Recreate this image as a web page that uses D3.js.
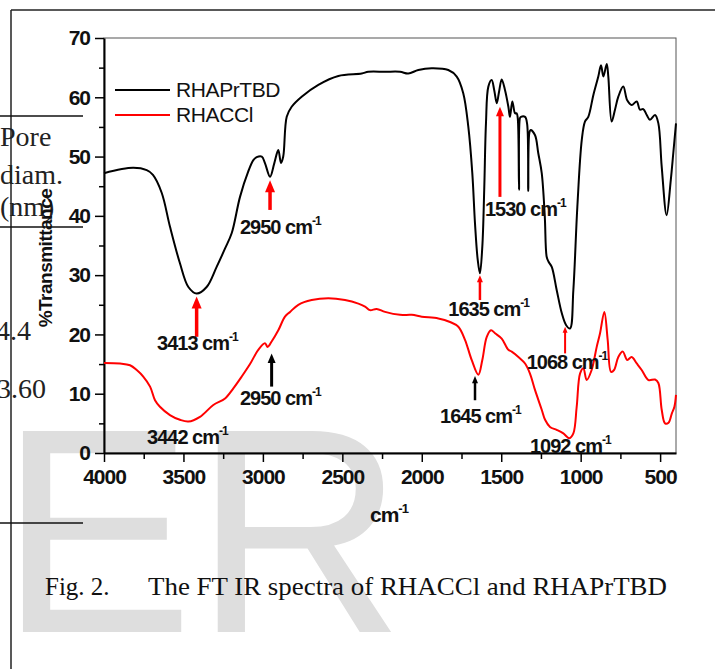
<!DOCTYPE html>
<html>
<head>
<meta charset="utf-8">
<script src="https://cdn.jsdelivr.net/npm/d3@7"></script>
<style>
  body { margin: 0; background: #fff; }
  svg { display: block; }
</style>
</head>
<body>
<script>
    // spectra (wavenumber in cm-1, % transmittance)
    const rhaprtbdWn = [4000, 3817, 3731, 3692, 3637, 3585, 3522, 3469, 3417, 3354, 3291, 3238, 3196, 3144, 3092,
        3060, 3039, 3007, 2987, 2955, 2928, 2903, 2886, 2872, 2850, 2819, 2756, 2651, 2525, 2378, 2337, 2231,
        2137, 2085, 2022, 1938, 1833, 1780, 1739, 1707, 1682, 1665, 1648, 1634, 1619, 1607, 1596, 1581, 1560,
        1544, 1528, 1514, 1497, 1476, 1455, 1445, 1430, 1413, 1403, 1396, 1388, 1382, 1376, 1350, 1337, 1330,
        1323, 1315, 1287, 1267, 1245, 1226, 1214, 1203, 1182, 1151, 1119, 1092, 1067, 1046, 1021, 993, 973, 952,
        920, 889, 872, 857, 836, 826, 805, 784, 763, 732, 707, 679, 647, 627, 606, 584, 564, 532, 511, 490, 459,
        433, 417, 400];
    const rhaprtbdT = [47.2, 48.1, 47.7, 46.9, 43.9, 38.2, 32.0, 28.0, 26.9, 28.0, 31.4, 34.5, 37.1, 43.2, 47.5,
        49.4, 49.9, 50.0, 48.9, 46.6, 48.9, 51.1, 48.9, 50.0, 56.7, 58.4, 60.1, 62.1, 63.6, 64.0, 64.3, 64.3,
        64.3, 64.0, 64.6, 64.9, 64.6, 63.5, 60.7, 55.0, 47.2, 38.7, 32.6, 30.3, 34.8, 44.4, 55.6, 61.8, 62.9,
        61.2, 59.0, 60.9, 63.0, 61.2, 58.4, 56.7, 59.3, 57.3, 57.3, 56.5, 44.4, 56.5, 56.7, 56.7, 55.5, 44.2,
        54.0, 54.5, 53.6, 50.6, 47.2, 40.0, 33.1, 32.3, 31.4, 27.5, 23.6, 21.6, 21.0, 27.5, 41.5, 52.8, 55.9, 56.7,
        60.4, 63.5, 65.4, 63.5, 65.6, 63.5, 55.9, 57.9, 60.1, 61.8, 59.5, 58.7, 59.3, 57.9, 58.0, 57.0, 56.2, 57.0,
        55.6, 48.3, 40.1, 46.0, 50.6, 55.6];

    const rhacclWn = [4000, 3899, 3836, 3794, 3753, 3710, 3679, 3648, 3585, 3522, 3469, 3396, 3312, 3238, 3186,
        3133, 3081, 3029, 2987, 2970, 2945, 2903, 2861, 2829, 2777, 2693, 2588, 2483, 2399, 2357, 2326, 2284,
        2231, 2137, 2063, 2000, 1896, 1822, 1770, 1728, 1686, 1644, 1619, 1591, 1564, 1539, 1497, 1455, 1434,
        1392, 1350, 1319, 1287, 1245, 1224, 1193, 1151, 1109, 1071, 1046, 1025, 1004, 983, 962, 931, 899, 878,
        851, 830, 809, 790, 763, 735, 707, 679, 647, 616, 573, 532, 511, 490, 469, 447, 426, 410, 400];
    const rhacclT = [15.2, 15.1, 14.8, 14.0, 12.9, 11.2, 8.9, 7.8, 6.4, 5.6, 5.3, 6.1, 8.1, 9.2, 10.9,
        12.9, 15.0, 17.4, 18.5, 17.9, 18.8, 20.7, 23.0, 23.8, 25.0, 25.8, 26.1, 25.8, 25.2, 24.7, 24.1, 24.3,
        23.8, 23.3, 23.3, 23.0, 22.7, 22.1, 21.3, 19.1, 15.7, 13.2, 15.7, 19.6, 20.7, 20.2, 19.3, 17.4, 17.1,
        16.2, 15.1, 13.4, 10.6, 7.3, 5.6, 4.4, 3.9, 3.3, 2.5, 3.3, 7.8, 13.4, 14.3, 12.3, 14.0, 17.9, 20.2,
        23.8, 19.1, 13.7, 14.0, 16.2, 17.1, 15.7, 16.2, 15.1, 14.0, 12.3, 12.4, 11.8, 7.3, 5.0, 5.1, 6.7, 7.8, 9.8];

    const xMajorTicks = [4000, 3500, 3000, 2500, 2000, 1500, 1000, 500];
    const xMinorTicks = [3750, 3250, 2750, 2250, 1750, 1250, 750];
    const yMajorTicks = [0, 10, 20, 30, 40, 50, 60, 70];
    const yMinorTicks = [5, 15, 25, 35, 45, 55, 65];

    const seriesNames = ["RHAPrTBD", "RHACCl"];
    const seriesColors = ["#000000", "#ff0000"];

    // peak notes: arrow at wn from tail to tip, label starting at (labelWn, labelT)
    const peakNotes = [
        { text: "2950", wn: 2955, tip: 46.0, tail: 41.0, color: "#ff0000", head: 10, w: 3.5, labelWn: 3144, labelT: 37.0 },
        { text: "3413", wn: 3417, tip: 26.4, tail: 19.6, color: "#ff0000", head: 10, w: 3.5, labelWn: 3666, labelT: 17.3 },
        { text: "2950", wn: 2945, tip: 16.8, tail: 11.2, color: "#000000", head: 8, w: 3, labelWn: 3144, labelT: 8.1 },
        { text: "3442", labelWn: 3729, labelT: 1.6 },
        { text: "1530", wn: 1508, tip: 58.4, tail: 43.2, color: "#ff0000", head: 8, w: 3, labelWn: 1602, labelT: 39.9 },
        { text: "1635", wn: 1634, tip: 30.0, tail: 25.8, color: "#ff0000", head: 6, w: 2.5, labelWn: 1833, labelT: 23.1 },
        { text: "1068", wn: 1098, tip: 21.3, tail: 16.8, color: "#ff0000", head: 5, w: 2, labelWn: 1340, labelT: 14.1 },
        { text: "1645", wn: 1665, tip: 13.0, tail: 8.9, color: "#000000", head: 6, w: 2.5, labelWn: 1885, labelT: 5.1 },
        { text: "1092", labelWn: 1319, labelT: 0.0 }
    ];

    const width = 715, height = 669;
    const margin = { left: 104, top: 38, right: 39, bottom: 216 };
    const plotW = width - margin.left - margin.right;
    const plotH = height - margin.top - margin.bottom;

    const svg = d3.select("body").append("svg")
        .attr("width", width)
        .attr("height", height)
        .style("background", "#fff");

    // watermark behind everything
    svg.append("text")
        .attr("x", -1)
        .attr("y", 632)
        .attr("font-family", "'Liberation Sans', Arial, sans-serif")
        .attr("font-size", 292)
        .attr("fill", "#dedede")
        .text("ER");

    // page frame and table fragments
    svg.append("line").attr("x1", 11).attr("y1", 10).attr("x2", width).attr("y2", 10)
        .attr("stroke", "#222").attr("stroke-width", 1.5);
    svg.append("line").attr("x1", 11).attr("y1", 10).attr("x2", 11).attr("y2", height)
        .attr("stroke", "#222").attr("stroke-width", 1.5);
    [116, 227, 523].forEach(yy => {
        svg.append("line").attr("x1", 0).attr("y1", yy).attr("x2", 83).attr("y2", yy)
            .attr("stroke", "#111").attr("stroke-width", 1.5);
    });
    const tableText = [["Pore", 0, 146], ["diam.", 0, 184], ["(nm)", 0, 216], ["4.4", -4, 340], ["3.60", -3, 398]];
    tableText.forEach(t => {
        svg.append("text")
            .attr("x", t[1]).attr("y", t[2])
            .attr("font-family", "'Liberation Serif', 'Times New Roman', serif")
            .attr("font-size", 28)
            .attr("fill", "#222")
            .text(t[0]);
    });

    const x = d3.scaleLinear().domain([4000, 400]).range([margin.left, margin.left + plotW]);
    const y = d3.scaleLinear().domain([0, 70]).range([margin.top + plotH, margin.top]);

    // plot frame (top/right)
    svg.append("rect")
        .attr("x", margin.left).attr("y", margin.top)
        .attr("width", plotW).attr("height", plotH)
        .attr("fill", "none").attr("stroke", "#555").attr("stroke-width", 1);

    const tickFont = g => g
        .attr("font-family", "'Liberation Sans', Arial, sans-serif")
        .attr("font-size", 21)
        .attr("font-weight", "bold")
        .attr("letter-spacing", -1);

    // x axis
    svg.append("g")
        .attr("transform", `translate(0,${margin.top + plotH})`)
        .call(d3.axisBottom(x).tickValues(xMinorTicks).tickSize(6).tickFormat(""))
        .call(g => g.select(".domain").remove())
        .call(g => g.selectAll("line").attr("stroke-width", 1.5));
    svg.append("g")
        .attr("transform", `translate(0,${margin.top + plotH})`)
        .call(d3.axisBottom(x).tickValues(xMajorTicks).tickFormat(d3.format("d"))
            .tickSize(9).tickSizeOuter(0).tickPadding(6))
        .call(tickFont)
        .call(g => g.select(".domain").attr("stroke-width", 2))
        .call(g => g.selectAll("line").attr("stroke-width", 1.5))
        .call(g => g.selectAll("text").attr("fill", "#111").attr("dy", "0.78em"));

    // y axis
    svg.append("g")
        .attr("transform", `translate(${margin.left},0)`)
        .call(d3.axisLeft(y).tickValues(yMinorTicks).tickSize(5).tickFormat(""))
        .call(g => g.select(".domain").remove())
        .call(g => g.selectAll("line").attr("stroke-width", 1.5));
    svg.append("g")
        .attr("transform", `translate(${margin.left},0)`)
        .call(d3.axisLeft(y).tickValues(yMajorTicks).tickSize(9).tickSizeOuter(0).tickPadding(5))
        .call(tickFont)
        .call(g => g.select(".domain").attr("stroke-width", 2))
        .call(g => g.selectAll("line").attr("stroke-width", 1.5))
        .call(g => g.selectAll("text").attr("fill", "#111"));

    // axis titles
    const xTitle = svg.append("text")
        .attr("x", 370).attr("y", 522)
        .attr("font-family", "'Liberation Sans', Arial, sans-serif")
        .attr("font-size", 21).attr("font-weight", "bold").attr("letter-spacing", -1)
        .attr("fill", "#111");
    xTitle.append("tspan").text("cm");
    xTitle.append("tspan").attr("dy", -9).attr("font-size", 13).text("-1");

    svg.append("text")
        .attr("transform", "translate(52,258) rotate(-90)")
        .attr("text-anchor", "middle")
        .attr("font-family", "'Liberation Sans', Arial, sans-serif")
        .attr("font-size", 19).attr("font-weight", "bold").attr("letter-spacing", -0.5)
        .attr("fill", "#111")
        .text("%Transmittance");

    // spectra
    const line = d3.line()
        .x(d => x(d[0]))
        .y(d => y(d[1]))
        .curve(d3.curveCatmullRom.alpha(0.5));
    const spectra = [
        d3.zip(rhaprtbdWn, rhaprtbdT),
        d3.zip(rhacclWn, rhacclT)
    ];
    svg.selectAll(".spec")
        .data(spectra)
        .enter()
        .append("path")
        .attr("class", "spec")
        .attr("d", line)
        .attr("fill", "none")
        .attr("stroke", (d, i) => seriesColors[i])
        .attr("stroke-width", 2)
        .attr("stroke-linejoin", "round");

    // legend
    seriesNames.forEach((name, i) => {
        const ly = 90 + i * 25;
        svg.append("line")
            .attr("x1", 115).attr("x2", 170).attr("y1", ly).attr("y2", ly)
            .attr("stroke", seriesColors[i]).attr("stroke-width", 2);
        svg.append("text")
            .attr("x", 176).attr("y", ly + 7)
            .attr("font-family", "'Liberation Sans', Arial, sans-serif")
            .attr("font-size", 21).attr("letter-spacing", -0.4)
            .attr("fill", "#111")
            .text(name);
    });

    // peak arrows and labels
    peakNotes.forEach(p => {
        if (p.wn !== undefined) {
            const ax = x(p.wn), tipY = y(p.tip), tailY = y(p.tail);
            svg.append("line")
                .attr("x1", ax).attr("x2", ax)
                .attr("y1", tailY).attr("y2", tipY + p.head)
                .attr("stroke", p.color).attr("stroke-width", p.w);
            svg.append("path")
                .attr("d", `M${ax},${tipY} L${ax - p.head / 2},${tipY + p.head * 1.2} L${ax + p.head / 2},${tipY + p.head * 1.2} Z`)
                .attr("fill", p.color);
        }
        const t = svg.append("text")
            .attr("x", x(p.labelWn)).attr("y", y(p.labelT))
            .attr("font-family", "'Liberation Sans', Arial, sans-serif")
            .attr("font-size", 20).attr("font-weight", "bold").attr("letter-spacing", -1)
            .attr("fill", "#111");
        t.append("tspan").text(p.text + " cm");
        t.append("tspan").attr("dy", -9).attr("font-size", 12).text("-1");
    });

    // caption
    svg.append("text")
        .attr("x", 45).attr("y", 595)
        .attr("font-family", "'Liberation Serif', 'Times New Roman', serif")
        .attr("font-size", 25).attr("fill", "#111")
        .text("Fig. 2.");
    svg.append("text")
        .attr("x", 148).attr("y", 595)
        .attr("font-family", "'Liberation Serif', 'Times New Roman', serif")
        .attr("font-size", 25).attr("fill", "#111")
        .attr("textLength", 519).attr("lengthAdjust", "spacingAndGlyphs")
        .text("The FT IR spectra of RHACCl and RHAPrTBD");
</script>
</body>
</html>
